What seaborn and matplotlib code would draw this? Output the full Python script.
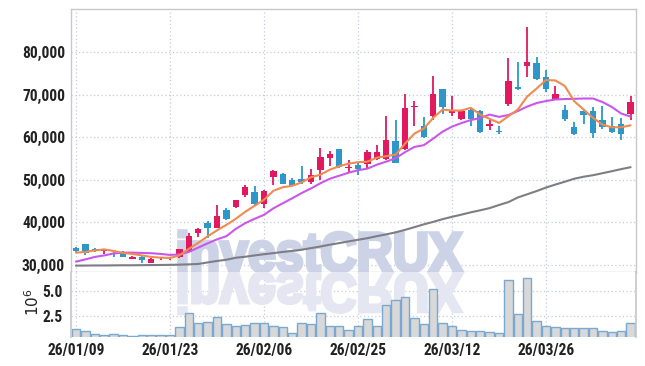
import numpy as np
import matplotlib
matplotlib.use("Agg")
import matplotlib.pyplot as plt
import seaborn as sns
from matplotlib.textpath import TextPath
from matplotlib.font_manager import FontProperties, fontManager
from matplotlib.patches import PathPatch
from matplotlib.transforms import Affine2D
from matplotlib.ticker import FuncFormatter

# ---------------- data ----------------
opens = [34000, 34900, 33700, 33100, 32800, 33070, 31420, 31890, 30470, 31600,
         31450, 31890, 33000, 37560, 39920, 38590, 42910, 43620, 46290, 47000,
         44260, 50710, 51410, 50000, 50230, 49360, 52190, 55100, 57250, 52700,
         53540, 53700, 54880, 54880, 59200, 57250, 67070, 62750, 64940, 71250,
         65740, 64330, 66360, 66290, 62750, 61570, 67870, 71790, 76750, 77390,
         74250, 69050, 66360, 62350, 66290, 66120, 64000, 62750, 63220, 65510]
highs = [34100, 34900, 34000, 33500, 32900, 33100, 32000, 31950, 31650, 31800,
         31900, 33800, 37400, 38740, 40320, 44020, 43390, 45280, 48820, 48420,
         47500, 52300, 51500, 50400, 53140, 52520, 57480, 56690, 57320, 54550,
         53940, 56900, 58190, 64940, 64160, 70070, 68490, 64800, 74390, 71300,
         69660, 66300, 66930, 66500, 64160, 62750, 78730, 77690, 86050, 78970,
         75730, 72030, 67710, 63530, 66500, 67160, 67470, 64800, 64570, 69830]
lows = [33000, 32200, 32900, 32500, 31900, 31700, 31300, 30470, 30400, 31000,
        31000, 31600, 33000, 36610, 36230, 38590, 40600, 43300, 45910, 43900,
        43300, 48820, 48900, 48500, 49050, 49050, 50000, 53300, 52700, 51820,
        51180, 52520, 54720, 54720, 53900, 57000, 62750, 59900, 64160, 65580,
        64940, 64000, 62750, 61000, 61800, 60850, 67300, 71200, 74250, 73500,
        70610, 68900, 63760, 60600, 63220, 59840, 61970, 61100, 59280, 64000]
closes = [33300, 32800, 33100, 33400, 32500, 31750, 31890, 31110, 31270, 31700,
          31700, 33710, 36780, 38430, 38740, 41500, 40860, 45110, 48270, 44260,
          47240, 52120, 49050, 48820, 49360, 51180, 55260, 56140, 52900, 53100,
          52600, 56440, 56440, 59280, 53940, 66920, 67470, 60080, 70300, 67070,
          66360, 66120, 64330, 61160, 63220, 61160, 73140, 71410, 77690, 73770,
          71250, 70300, 64330, 60790, 65180, 61020, 62440, 61260, 60790, 68250]
ma_short = [32833, 33000, 33350, 33590, 33230, 32760, 32530, 32170, 31820, 31650,
            31580, 32170, 33710, 35120, 36660, 38070, 39370, 40790, 42440, 43860,
            45280, 47400, 48230, 48580, 49360, 50590, 51180, 52360, 53190, 53780,
            54130, 54250, 55190, 55550, 55900, 58500, 60860, 62040, 64570, 66520,
            66290, 66290, 66930, 65340, 64330, 63380, 64940, 66520, 69590, 71480,
            73490, 73370, 72070, 68480, 66520, 64570, 62980, 62350, 62350, 62820]
ma_mid = [30710, 31230, 31820, 32170, 32640, 32830, 32830, 32760, 32690, 32530,
          32290, 32410, 33000, 34010, 35010, 35950, 36710, 38430, 39770, 40790,
          41730, 43270, 44450, 45630, 46860, 47940, 49170, 50230, 50940, 51650,
          52240, 52600, 53540, 54250, 55070, 56490, 57720, 58140, 59680, 61330,
          62510, 63340, 64050, 64520, 65340, 64800, 65230, 66170, 67230, 68060,
          68530, 68890, 69000, 69050, 69120, 69120, 68300, 67120, 65580, 64870]
ma_long = [29764, 29788, 29811, 29811, 29835, 29858, 29858, 29882, 29906, 29929,
           29953, 30000, 30071, 30165, 30519, 30874, 31157, 31629, 31865, 32172,
           32455, 32715, 32998, 33235, 33518, 33896, 34273, 34698, 35076, 35478,
           35855, 36233, 36705, 37130, 37602, 38193, 38830, 39491, 40081, 40719,
           41262, 41781, 42324, 42797, 43316, 44048, 44733, 45819, 46574, 47330,
           48156, 48865, 49526, 50234, 50706, 51060, 51533, 52005, 52501, 52949]
volume = [1.15, 1.02, 0.72, 0.62, 0.72, 0.62, 0.48, 0.62, 0.62, 0.62,
          0.62, 1.36, 2.84, 1.83, 1.93, 2.34, 1.73, 1.53, 1.63, 1.83,
          1.83, 1.53, 1.33, 0.82, 1.83, 1.73, 2.84, 1.43, 1.43, 1.12,
          1.43, 2.14, 1.43, 3.55, 4.06, 4.36, 2.24, 1.73, 5.17, 1.83,
          1.43, 1.12, 1.02, 1.02, 0.92, 0.82, 6.08, 2.74, 6.28, 2.03,
          1.43, 1.33, 1.23, 1.23, 1.23, 1.23, 1.02, 0.92, 1.02, 1.83]
date_tick_pos = [0, 10, 20, 30, 40, 50]
date_tick_labels = ["26/01/09", "26/01/23", "26/02/06", "26/02/25", "26/03/12", "26/03/26"]
price_ticks = [30000, 40000, 50000, 60000, 70000, 80000]
vol_ticks = [2.5, 5.0]

# ---------------- style ----------------
sns.set_theme(style="white")

# pick a narrow / condensed face for the tick labels if one is installed
tick_fp = None
prefs = ["Roboto Condensed", "Liberation Sans Narrow", "Open Sans Condensed",
         "Noto Sans Condensed", "DejaVu Sans Condensed"]
fonts = fontManager.ttflist
for pname in prefs:
    cands = [f for f in fonts if f.name == pname]
    if cands:
        bold = [f for f in cands if str(f.weight) in ("bold", "700", "600", "semibold")
                and f.style == "normal"]
        reg = [f for f in cands if f.style == "normal"]
        pick = (bold or reg or cands)[0]
        tick_fp = FontProperties(fname=pick.fname)
        break
if tick_fp is None:
    conds = [f for f in fonts if str(f.stretch) in ("condensed", "semi-condensed")
             and f.style == "normal"]
    conds_b = [f for f in conds if str(f.weight) in ("bold", "700", "600", "semibold")]
    if conds_b or conds:
        tick_fp = FontProperties(fname=(conds_b or conds)[0].fname)
if tick_fp is None:
    tick_fp = FontProperties(family="Roboto", weight="bold")
plt.rcParams["font.family"] = ["Roboto", "DejaVu Sans"]

UP = "#e2195f"
DOWN = "#2e96c8"
GRID = "#c6cadf"
SPINE = "#c8c8c8"
TXT = "#222222"

W, H = 645, 366
fig = plt.figure(figsize=(W / 100, H / 100), dpi=100)
fig.patch.set_facecolor("white")
L, R = 71 / W, 636 / W
top_px, mid_px, bot_px = 9, 272.3, 337
ax = fig.add_axes([L, 1 - mid_px / H, R - L, (mid_px - top_px) / H])
axv = fig.add_axes([L, 1 - bot_px / H, R - L, (bot_px - mid_px) / H], sharex=ax)

n = len(opens)
x = np.arange(n)
o = np.array(opens, float); c = np.array(closes, float)
hi = np.array(highs, float); lo = np.array(lows, float)
up = c >= o
colors = np.where(up, UP, DOWN)

# watermark (and its reflection)
fp = FontProperties(family="Liberation Sans", weight="bold")
tp = TextPath((0, 0), "investCRUX", size=100, prop=fp)
ext = tp.get_extents()
x0w, x1w, topw = 179, 462, 231
sx = (x1w - x0w) / ext.width
sy = (mid_px - 1 - topw) / ext.y1
base_disp = H - mid_px
tr_main = Affine2D().translate(-ext.x0, 0).scale(sx, sy).translate(x0w, base_disp + 1)
wm = PathPatch(tp, transform=tr_main, facecolor="#cdd3e7", edgecolor="#cdd3e7",
               linewidth=2.6, zorder=0.7)
ax.add_artist(wm)
tr_ref = Affine2D().translate(-ext.x0, 0).scale(sx, -sy).translate(x0w, base_disp - 1)
wm2 = PathPatch(tp, transform=tr_ref, facecolor="#e4e7f1", edgecolor="#e4e7f1",
                linewidth=2.6, zorder=0.7)
axv.add_artist(wm2)

# candles
ax.vlines(x, lo, hi, colors=colors, linewidth=1.3, zorder=2)
body_h = np.maximum(np.abs(c - o), 180)
body_b = np.minimum(o, c)
ax.bar(x, body_h, bottom=body_b, width=0.68, color=colors, edgecolor="none", zorder=3)

# moving averages
sns.lineplot(x=x, y=ma_long, ax=ax, color="#7d7d85", linewidth=1.5, zorder=4)
sns.lineplot(x=x, y=ma_mid, ax=ax, color="#c957ea", linewidth=1.5, zorder=4)
sns.lineplot(x=x, y=ma_short, ax=ax, color="#ef8a50", linewidth=1.5, zorder=4)

# volume
sns.barplot(x=x, y=volume, ax=axv, native_scale=True, color="#d8d8d8",
            edgecolor="#79a9d3", linewidth=1.0, width=0.9, saturation=1, zorder=2)

# axes cosmetics
xlim = (-0.53, 59.57)
ax.set_xlim(*xlim)
ax.set_ylim(28200, 90200)
axv.set_ylim(0.37, 6.9)
ax.set_yticks(price_ticks)
ax.yaxis.set_major_formatter(FuncFormatter(lambda v, p: f"{int(v):,}"))
axv.set_yticks(vol_ticks)
axv.set_yticklabels([f"{v:.1f}" for v in vol_ticks])
axv.set_xticks(date_tick_pos)
axv.set_xticklabels(date_tick_labels)
axv.set_xlim(*xlim)
ax.set_xticks(date_tick_pos)

for a in (ax, axv):
    a.set_xlabel(""); a.set_ylabel("")
    a.grid(True, linestyle=(0, (1, 2)), color=GRID, linewidth=0.9)
    a.set_axisbelow(True)
    a.tick_params(length=0, labelcolor=TXT)
    a.set_facecolor("white")
ax.tick_params(labelbottom=False)
ax.tick_params(axis="y", pad=4.3)
axv.tick_params(axis="y", pad=5.8)
axv.tick_params(axis="x", pad=4.5)
for lab in ax.get_yticklabels() + axv.get_yticklabels() + axv.get_xticklabels():
    lab.set_fontproperties(tick_fp)
    lab.set_fontsize(11.2)

for sp in ["left", "right", "top", "bottom"]:
    ax.spines[sp].set_color(SPINE)
    ax.spines[sp].set_linewidth(1)
for sp in ["left", "right"]:
    axv.spines[sp].set_color(SPINE)
axv.spines["top"].set_visible(False)
axv.spines["bottom"].set_visible(False)

fig.text(33 / W, 1 - 302 / H, r"$10^6$", rotation=90, ha="center", va="center",
         fontsize=11, color=TXT)

fig.savefig("out.png", dpi=100, facecolor="white")
